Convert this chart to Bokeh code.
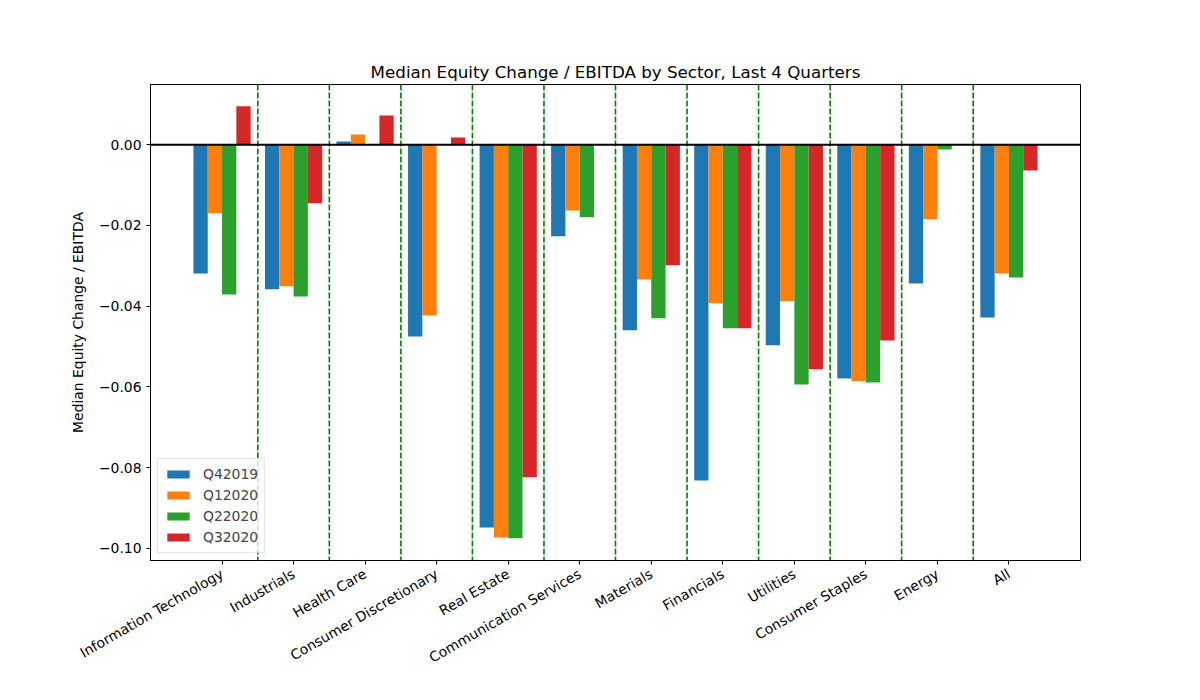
import math
from bokeh.plotting import figure
from bokeh.models import (FixedTicker, CustomJSTickFormatter, Span, Legend,
                          LegendItem, Range1d)
from bokeh.embed import file_html
from bokeh.resources import INLINE

sectors = ["Information Technology", "Industrials", "Health Care",
           "Consumer Discretionary", "Real Estate", "Communication Services",
           "Materials", "Financials", "Utilities", "Consumer Staples",
           "Energy", "All"]
quarters = ["Q42019", "Q12020", "Q22020", "Q32020"]
q42019 = [-0.0319, -0.0358, 0.0008, -0.0475, -0.0948, -0.0227,
          -0.0460, -0.0832, -0.0497, -0.0579, -0.0344, -0.0428]
q12020 = [-0.0170, -0.0351, 0.0025, -0.0423, -0.0973, -0.0163,
          -0.0334, -0.0393, -0.0388, -0.0586, -0.0185, -0.0319]
q22020 = [-0.0371, -0.0376, 0.0, 0.0, -0.0975, -0.0180,
          -0.0430, -0.0455, -0.0594, -0.0589, -0.0012, -0.0329]
q32020 = [0.0095, -0.0145, 0.0072, 0.0018, -0.0824, 0.0,
          -0.0299, -0.0455, -0.0556, -0.0485, 0.0, -0.0064]
series = [q42019, q12020, q22020, q32020]
colors = ["#1f77b4", "#ff7f0e", "#2ca02c", "#d62728"]
y_ticks = [-0.10, -0.08, -0.06, -0.04, -0.02, 0.00]

FONT = "DejaVu Sans"

p = figure(frame_width=930, frame_height=476,
           x_range=Range1d(-1, 12), y_range=Range1d(-0.1030, 0.0149),
           output_backend="svg", toolbar_location=None,
           min_border_left=150, min_border_right=120,
           min_border_top=84, min_border_bottom=140,
           title="Median Equity Change / EBITDA by Sector, Last 4 Quarters")
p.background_fill_color = "white"
p.border_fill_color = "white"
p.outline_line_color = "black"
p.outline_line_width = 1
p.outline_line_alpha = 1
p.grid.visible = False

p.title.align = "center"
p.title.text_font = FONT
p.title.text_font_size = "16.7px"
p.title.text_font_style = "normal"
p.title.text_color = "black"
p.title.standoff = 6

n = len(series)
bw = 0.2
renderers = []
for j, (vals, col) in enumerate(zip(series, colors)):
    xs = [i + (j - (n - 1) / 2) * bw for i in range(len(sectors))]
    r = p.vbar(x=xs, top=vals, bottom=0, width=bw, fill_color=col,
               line_color=None)
    renderers.append(r)

for i in range(len(sectors) - 1):
    p.add_layout(Span(location=i + 0.5, dimension="height",
                      line_color="green", line_width=1.6,
                      line_dash="6 2"))
p.add_layout(Span(location=0, dimension="width", line_color="black",
                  line_width=2))

xa = p.xaxis[0]
xa.ticker = FixedTicker(ticks=list(range(len(sectors))))
xa.major_label_overrides = {i: s for i, s in enumerate(sectors)}
xa.major_label_orientation = math.pi / 6
ya = p.yaxis[0]
ya.ticker = FixedTicker(ticks=y_ticks)
ya.formatter = CustomJSTickFormatter(code="""
    if (Math.abs(tick) < 1e-9) { return '0.00'; }
    const s = Math.abs(tick).toFixed(2);
    return (tick < 0 ? '\\u2212' : '') + s;
""")
ya.axis_label = "Median Equity Change / EBITDA"
ya.axis_label_standoff = 10

for ax in (xa, ya):
    ax.axis_line_color = "black"
    ax.major_tick_line_color = "black"
    ax.major_tick_out = 4
    ax.major_tick_in = 0
    ax.minor_tick_line_color = None
    ax.major_label_text_font = FONT
    ax.major_label_text_font_size = "13.9px"
    ax.major_label_text_color = "black"
    ax.major_label_standoff = 5
    ax.axis_label_text_font = FONT
    ax.axis_label_text_font_size = "13.9px"
    ax.axis_label_text_font_style = "normal"
    ax.axis_label_text_color = "black"
xa.major_label_standoff = 8

legend = Legend(items=[LegendItem(label=q, renderers=[r])
                       for q, r in zip(quarters, renderers)],
                location="bottom_left", margin=7, padding=6,
                spacing=3, glyph_width=28, glyph_height=10,
                label_height=18, label_standoff=11,
                label_text_font=FONT, label_text_font_size="13.9px",
                border_line_color="#cccccc", border_line_width=1,
                background_fill_alpha=0.8)
p.add_layout(legend, "center")

open("out.html", "w").write(file_html(p, INLINE))
